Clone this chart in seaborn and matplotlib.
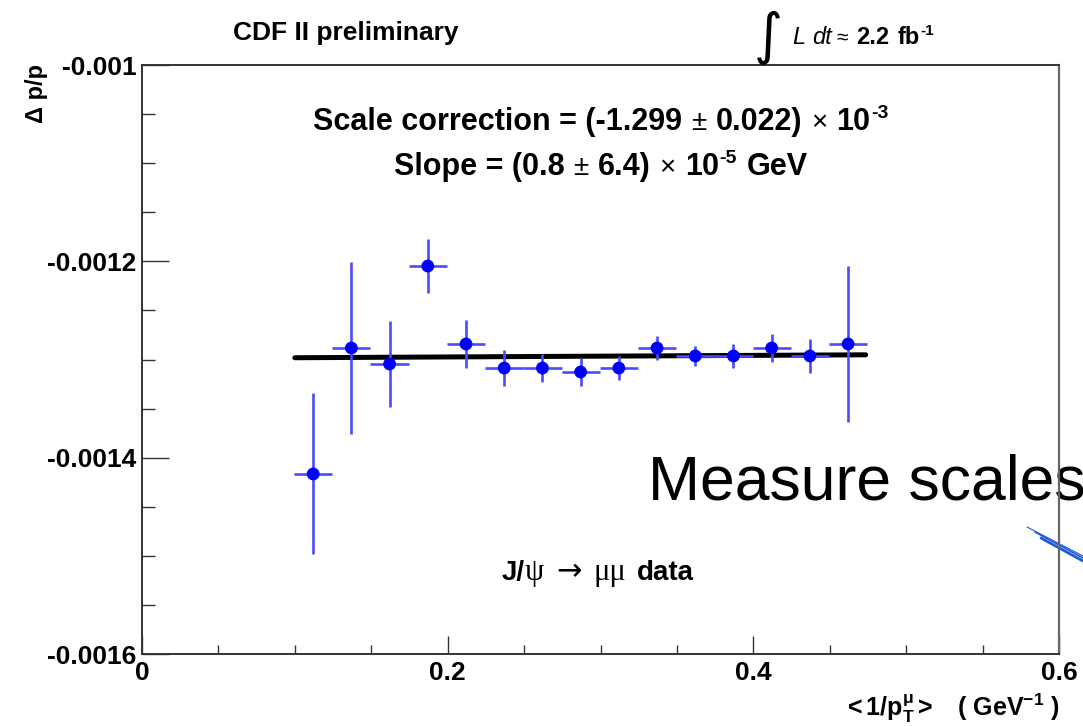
import numpy as np
import matplotlib
matplotlib.use("Agg")
import matplotlib.pyplot as plt
from matplotlib.lines import Line2D
from matplotlib.ticker import MultipleLocator, FuncFormatter
import seaborn as sns

# Mean 1/pT of each bin (GeV^-1) and the measured momentum-scale offset
inv_pt = [0.112, 0.137, 0.162, 0.187, 0.212, 0.237, 0.262, 0.287,
          0.312, 0.337, 0.362, 0.387, 0.412, 0.437, 0.462]
dp_over_p = [-1.4166e-3, -1.2883e-3, -1.3046e-3, -1.2048e-3, -1.2842e-3,
             -1.3087e-3, -1.3087e-3, -1.3127e-3, -1.3087e-3, -1.2883e-3,
             -1.2964e-3, -1.2964e-3, -1.2883e-3, -1.2964e-3, -1.2842e-3]
dp_err = [8.2e-5, 8.8e-5, 4.4e-5, 2.75e-5, 2.4e-5, 1.8e-5, 1.4e-5, 1.4e-5,
          1.2e-5, 1.2e-5, 1.0e-5, 1.2e-5, 1.4e-5, 1.7e-5, 7.9e-5]
bin_half_width = 0.0125

# Linear fit result: dp/p = scale + slope * <1/pT>
fit_scale = -1.299e-3
fit_slope = 0.8e-5
fit_range = [0.1, 0.4735]

x_ticks = [0, 0.2, 0.4, 0.6]
y_ticks = [-0.0016, -0.0014, -0.0012, -0.001]

sns.set_theme(style="white")
plt.rcParams["font.family"] = ["Liberation Sans", "DejaVu Sans"]
plt.rcParams["text.color"] = "black"
plt.rcParams["mathtext.fontset"] = "custom"
plt.rcParams["mathtext.rm"] = "Liberation Sans"
plt.rcParams["mathtext.it"] = "Liberation Sans:italic"
plt.rcParams["mathtext.bf"] = "Liberation Sans:bold"

W, H = 1083, 726
fig = plt.figure(figsize=(W / 100, H / 100), dpi=100, facecolor="white")


def fx(px):
    return px / W


def fy(py):
    return 1 - py / H


renderer = fig.canvas.get_renderer()


def text_run(pieces, x, y, ha="center"):
    """Lay out differently styled text pieces side by side on one baseline."""
    placed = []
    total = 0.0
    for s, kw in pieces:
        kw = dict(kw)
        dy = kw.pop("dy", 0)
        gap = kw.pop("gap", 0)
        t = fig.text(0, 0, s, va="baseline", ha="left", **kw)
        w = t.get_window_extent(renderer).width
        placed.append((t, dy, gap, w))
        total += gap + w
    cur = {"center": x - total / 2, "left": x, "right": x - total}[ha]
    for t, dy, gap, w in placed:
        cur += gap
        t.set_position((fx(cur), fy(y - dy)))
        cur += w


ax = fig.add_axes([fx(142), fy(654), fx(1059) - fx(142), fy(65) - fy(654)])
ax.set_facecolor("none")

# fit line
fit_x = np.array(fit_range)
fit_y = fit_scale + fit_slope * fit_x
sns.lineplot(x=fit_x, y=fit_y, ax=ax, color="black", linewidth=3.6, zorder=2)

# data with bin widths and statistical errors
ax.errorbar(inv_pt, dp_over_p, xerr=bin_half_width, yerr=dp_err, fmt="none",
            ecolor="#4a4aff", elinewidth=1.9, capsize=0, zorder=3)
sns.scatterplot(x=inv_pt, y=dp_over_p, ax=ax, color="#0000ff", s=85,
                edgecolor="none", zorder=4)

ax.set_xlim(0, 0.6)
ax.set_ylim(-0.0016, -0.001)
ax.set_xticks(x_ticks)
ax.set_yticks(y_ticks)
ax.xaxis.set_minor_locator(MultipleLocator(0.05))
ax.yaxis.set_minor_locator(MultipleLocator(0.00005))
fmt = FuncFormatter(lambda v, _: "{:g}".format(v))
ax.xaxis.set_major_formatter(fmt)
ax.yaxis.set_major_formatter(fmt)

ax.tick_params(axis="x", which="major", direction="in", length=13, width=1.0,
               color="#333333", labelcolor="black", pad=5, labelsize=19,
               bottom=True, top=False)
ax.tick_params(axis="x", which="minor", direction="in", length=6.5, width=1.0,
               color="#333333", bottom=True, top=False)
ax.tick_params(axis="y", which="major", direction="in", length=19.5, width=1.0,
               color="#333333", labelcolor="black", pad=4, labelsize=19,
               left=True, right=False)
ax.tick_params(axis="y", which="minor", direction="in", length=9.5, width=1.0,
               color="#333333", left=True, right=False)
for lab in ax.get_xticklabels() + ax.get_yticklabels():
    lab.set_fontweight("bold")
for side in ["left", "bottom", "top"]:
    ax.spines[side].set_color("#333333")
    ax.spines[side].set_linewidth(1.4)
ax.spines["right"].set_color("#666666")
ax.spines["right"].set_linewidth(1.6)
ax.set_xlabel("")
ax.set_ylabel("")

# axis titles
fig.text(fx(37), fy(64), "\u0394 p/p", rotation=90, ha="center", va="top",
         fontsize=17, fontweight="bold")
fig.text(fx(1060), fy(716), r"$\mathbf{<1/p_{T}^{\mu}>\ \ \ (\ GeV^{-1}\ )}$",
         ha="right", va="baseline", fontsize=18)

# header
fig.text(fx(346), fy(40), "CDF II preliminary", ha="center", va="baseline",
         fontsize=19, fontweight="bold")
fig.text(fx(768), fy(38), "\u222b", ha="center", va="center", fontsize=40,
         family="DejaVu Sans")
bold17 = dict(fontsize=17, fontweight="bold")
text_run([("L", dict(fontsize=17, style="italic")),
          ("dt", dict(fontsize=17, style="italic", gap=7)),
          ("\u2248", dict(fontsize=15, gap=5)),
          ("2.2", dict(gap=8, **bold17)),
          ("fb", dict(gap=8, **bold17)),
          ("-1", dict(fontsize=11, fontweight="bold", dy=9, gap=1))],
         792, 44, ha="left")

# fit result
big = dict(fontsize=22, fontweight="bold")
op = dict(fontsize=20, gap=9)
sup = dict(fontsize=14, fontweight="bold", dy=12, gap=1)
text_run([("Scale correction = (-1.299", big),
          ("\u00b1", op),
          ("0.022)", dict(gap=9, **big)),
          ("\u00d7", op),
          ("10", dict(gap=9, **big)),
          ("-3", sup)],
         601, 130)
text_run([("Slope = (0.8", big),
          ("\u00b1", op),
          ("6.4)", dict(gap=9, **big)),
          ("\u00d7", op),
          ("10", dict(gap=9, **big)),
          ("-5", sup),
          ("GeV", dict(gap=10, **big))],
         601, 175)

# sample label
text_run([("J/", dict(fontsize=20, fontweight="bold")),
          ("\u03c8", dict(fontsize=22, family="Liberation Serif")),
          ("\u2192", dict(fontsize=22, family="DejaVu Sans", gap=12)),
          ("\u03bc\u03bc", dict(fontsize=22, family="Liberation Serif", gap=12)),
          ("data", dict(fontsize=20, fontweight="bold", gap=11))],
         598, 580)

# overlay caption and pointer stroke
fig.text(fx(648), fy(500), "Measure scales", ha="left", va="baseline",
         fontsize=45, color="black", zorder=-1)
for (x0, y0, x1, y1, lw) in [(1027, 527, 1083, 556, 0.8),
                             (1035, 532, 1083, 558, 1.2),
                             (1041, 538, 1083, 561, 2.0)]:
    fig.add_artist(Line2D([fx(x0), fx(x1)], [fy(y0), fy(y1)],
                          transform=fig.transFigure, color="#1e5bd8",
                          linewidth=lw, zorder=-1))

fig.savefig("out.png", dpi=100, facecolor="white")
